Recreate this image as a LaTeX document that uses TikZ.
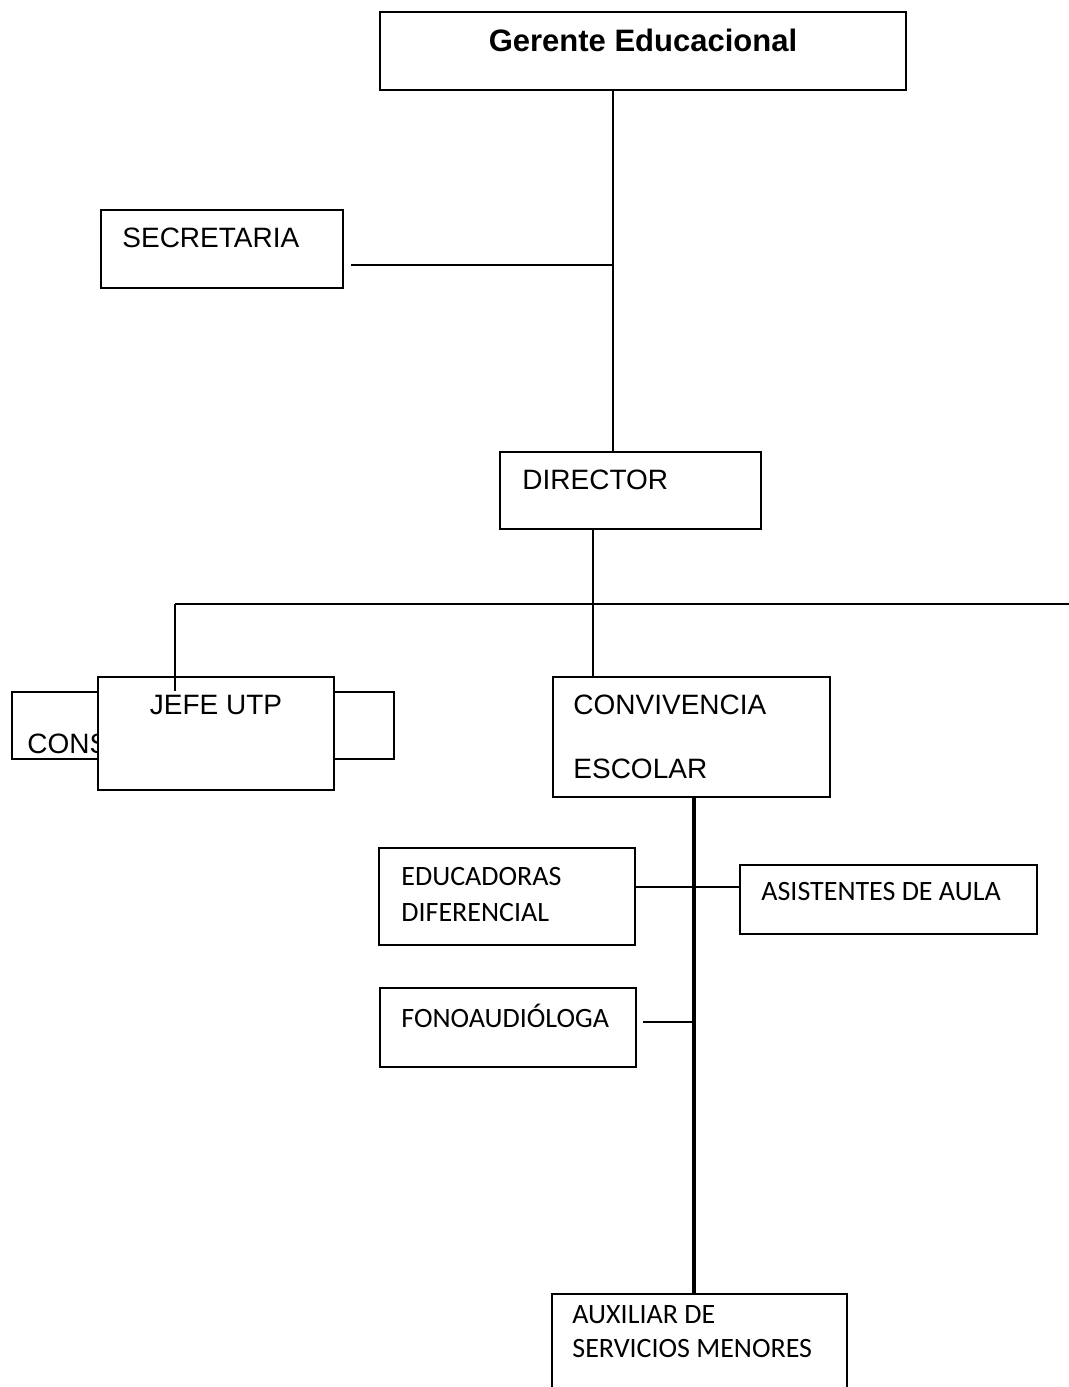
\documentclass[tikz,border=0pt]{standalone}
\usepackage{fontspec}
\setmainfont{Liberation Sans}
\newfontfamily\calibri{Carlito}
\usetikzlibrary{fit}

\tikzset{
	box/.style={draw, inner sep=0pt, line width=1pt},
	blank/.style={box, fill=white},
	link/.style={line width=1pt},
	trunk/.style={line width=2.2pt},
	lbl/.style={anchor=base west, inner sep=0pt, font=\fontsize{14}{16}\selectfont},
	clbl/.style={anchor=base west, inner sep=0pt, font=\calibri\fontsize{14}{16}\selectfont},
}

\begin{document}
\begin{tikzpicture}[x=0.5pt, y=-0.5pt]
		\useasboundingbox (0, 0) rectangle (1069, 1387);

		\node[box, fit={(380, 12) (906, 90)}] (ger) {};
		\node[box, fit={(101, 210) (343, 288)}] (sec) {};
		\node[box, fit={(500, 452) (761, 529)}] (dir) {};
		\node[box, fit={(12, 692) (394, 759)}] (cons) {};
		\node[lbl] (constxt) at (27, 753) {CONS};
		\node[blank, fit={(98, 677) (334, 790)}] (jefe) {};
		\node[box, fit={(553, 677) (830, 797)}] (conv) {};
		\node[box, fit={(379, 848) (635, 945)}] (edu) {};
		\node[box, fit={(740, 865) (1037, 934)}] (asis) {};
		\node[box, fit={(380, 988) (636, 1067)}] (fono) {};
		\node[box, fit={(552, 1294) (847, 1420)}] (aux) {};

		\node[lbl, anchor=base, font=\bfseries\fontsize{15.5}{18}\selectfont] (gertxt) at (643, 51) {Gerente Educacional};
		\node[lbl] (sectxt) at (122, 247) {SECRETARIA};
		\node[lbl] (dirtxt) at (522, 489) {DIRECTOR};
		\node[lbl, anchor=base] (jefetxt) at (216, 714) {JEFE UTP};
		\node[lbl] (convtxt) at (573, 714) {CONVIVENCIA};
		\node[lbl] (esctxt) at (573, 778) {ESCOLAR};
		\node[clbl] (edutxt) at (401, 885) {EDUCADORAS};
		\node[clbl] (diftxt) at (401, 921) {DIFERENCIAL};
		\node[clbl] (asistxt) at (761, 900) {ASISTENTES DE AULA};
		\node[clbl] (fonotxt) at (401, 1027) {FONOAUDIÓLOGA};
		\node[clbl] (auxtxt) at (572, 1323) {AUXILIAR DE};
		\node[clbl] (servtxt) at (572, 1357) {SERVICIOS MENORES};

		% junctions
		\coordinate (j1) at (613, 265);
		\coordinate (j2) at (593, 604);
		\coordinate (jl) at (175, 604);
		\coordinate (jr) at (1069, 604);
		\coordinate (j3) at (694, 887);
		\coordinate (j4) at (692, 1022);

		\draw[link] (ger.south -| j1) -- (dir.north -| j1);
		\draw[link] ([xshift=3.5pt]sec.east |- j1) -- (j1);
		\draw[link] (dir.south -| j2) -- (conv.north -| j2);
		\draw[link] (jl) -- (jr);
		\draw[link] (jl) -- ([yshift=-7.5pt]jefe.north -| jl);
		\draw[trunk] (conv.south -| j3) -- (aux.north -| j3);
		\draw[link] (edu.east |- j3) -- (asis.west |- j3);
		\draw[link] ([xshift=3pt]fono.east |- j4) -- (j4);
	\end{tikzpicture}
\end{document}
